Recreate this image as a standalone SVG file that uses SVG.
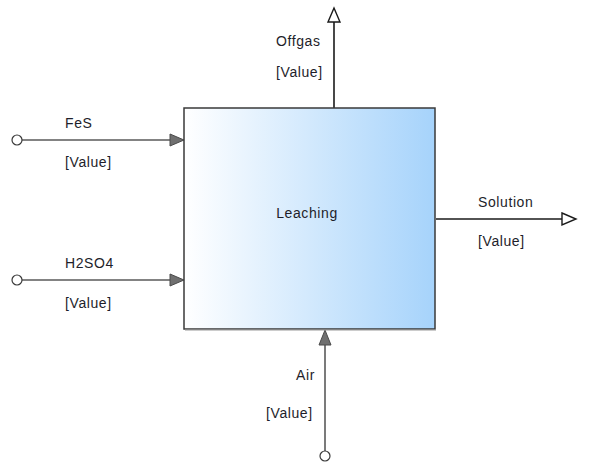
<svg xmlns="http://www.w3.org/2000/svg" width="589" height="462" viewBox="0 0 589 462">
  <style>
    text { font-family: "Liberation Sans", Arial, sans-serif; font-size: 14px; letter-spacing: 0.6px; fill: #1e1e2a; }
    .in { stroke: #5a5a5a; stroke-width: 1.6; fill: none; }
    .out { stroke: #1a1a1a; stroke-width: 1.6; fill: none; }
    .src { fill: #ffffff; stroke: #3a3a3a; stroke-width: 1.2; }
    .head-in { fill: #707070; stroke: #4a4a4a; stroke-width: 1; }
    .head-out { fill: #ffffff; stroke: #1a1a1a; stroke-width: 1.4; }
  </style>
  <defs>
    <linearGradient id="unitFill" x1="0" y1="0" x2="1" y2="0">
      <stop offset="0" stop-color="#ffffff"/>
      <stop offset="1" stop-color="#a6d3fb"/>
    </linearGradient>
  </defs>
  <rect width="589" height="462" fill="#ffffff"/>

  <g id="connectors">
    <!-- FeS feed -->
    <line class="in" x1="22" y1="140" x2="171" y2="140"/>
    <circle class="src" cx="17" cy="140" r="5"/>
    <polygon class="head-in" points="170,134 184,140 170,146"/>
    <!-- H2SO4 feed -->
    <line class="in" x1="22" y1="280" x2="171" y2="280"/>
    <circle class="src" cx="17" cy="280" r="5"/>
    <polygon class="head-in" points="170,274 184,280 170,286"/>
    <!-- Air feed -->
    <line class="in" x1="325" y1="451" x2="325" y2="344"/>
    <circle class="src" cx="325" cy="456" r="5"/>
    <polygon class="head-in" points="319,345 325,330 331,345"/>
    <!-- Offgas product -->
    <line class="out" x1="334" y1="108" x2="334" y2="22"/>
    <polygon class="head-out" points="328,22 334,8 340,22"/>
    <!-- Solution product -->
    <line class="out" x1="436" y1="219" x2="562" y2="219"/>
    <polygon class="head-out" points="562,213 576,219 562,225"/>
  </g>

  <g id="leaching">
    <rect x="184" y="108" width="251" height="221" fill="url(#unitFill)" stroke="#3a3a3a" stroke-width="1.5"/>
    <line x1="185" y1="330" x2="436" y2="330" stroke="#9a9a9a" stroke-width="1"/>
    <text x="307" y="218" text-anchor="middle">Leaching</text>
  </g>

  <g id="fes">
    <text x="65" y="128">FeS</text>
    <text x="65" y="167">[Value]</text>
  </g>
  <g id="h2so4">
    <text x="65" y="268">H2SO4</text>
    <text x="65" y="308">[Value]</text>
  </g>
  <g id="offgas">
    <text x="276" y="46">Offgas</text>
    <text x="276" y="77">[Value]</text>
  </g>
  <g id="solution">
    <text x="478" y="207">Solution</text>
    <text x="478" y="246">[Value]</text>
  </g>
  <g id="air">
    <text x="315" y="380" text-anchor="end">Air</text>
    <text x="266" y="418">[Value]</text>
  </g>
</svg>
